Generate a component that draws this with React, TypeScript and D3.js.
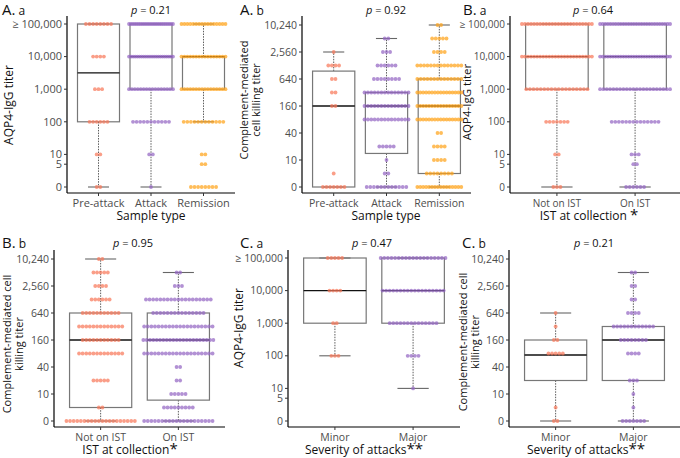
import React from "react";
import * as d3 from "d3";

// ---- data ----
const aqpLevels = [0, 5, 10, 100, 1000, 10000, 100000];
const aqpTicks = [0, 5, 10, 100, 1000, 10000, 100000];
const aqpTickLabels = ["0", "5", "10", "100", "1,000", "10,000", "\u2265 100,000"];
const cdcLevels = [0, 5, 10, 20, 40, 80, 160, 320, 640, 1280, 2560, 5120, 10240];
const cdcTicks = [0, 10, 40, 160, 640, 2560, 10240];
const cdcTickLabels = ["0", "10", "40", "160", "640", "2,560", "10,240"];

const sampleTypes = ["Pre-attack", "Attack", "Remission"];
const istGroups = ["Not on IST", "On IST"];
const severityGroups = ["Minor", "Major"];

// counts of samples at each level
const aaPreAttack = [2, 0, 2, 6, 3, 4, 8];
const aaAttack = [1, 0, 2, 11, 16, 22, 24];
const aaRemission = [8, 2, 2, 12, 16, 16, 16];
const abPreAttack = [7, 1, 0, 0, 0, 0, 2, 2, 2, 4, 1, 0, 0];
const abAttack = [12, 2, 1, 5, 0, 14, 14, 14, 8, 6, 3, 2, 0];
const abRemission = [16, 8, 4, 4, 2, 16, 16, 16, 14, 14, 4, 5, 2];
const baNotOn = [3, 0, 2, 7, 18, 24, 24];
const baOn = [6, 2, 3, 14, 22, 28, 28];
const bbNotOn = [20, 2, 0, 5, 0, 13, 11, 13, 11, 6, 4, 5, 2];
const bbOn = [20, 9, 5, 2, 2, 20, 22, 20, 15, 19, 3, 2, 0];
const caMinor = [0, 0, 0, 3, 2, 4, 5];
const caMajor = [0, 0, 1, 4, 14, 18, 19];
const cbMinor = [2, 1, 0, 0, 0, 5, 2, 1, 1, 0, 0, 0, 0];
const cbMajor = [7, 1, 1, 3, 0, 4, 8, 12, 4, 2, 2, 2, 0];

// box stats: [lower whisker, q1, median, q3, upper whisker]
const aaBoxes = [[0, 100, 3162, 100000, 100000], [0, 1000, 10000, 100000, 100000], [100, 1000, 10000, 10000, 100000]];
const abBoxes = [[0, 0, 160, 960, 2560], [0, 14, 160, 320, 5120], [0, 5, 160, 640, 10240]];
const baBoxes = [[0, 1000, 10000, 100000, 100000], [0, 1000, 10000, 100000, 100000]];
const bbBoxes = [[0, 5, 160, 640, 10240], [0, 7.3, 160, 640, 5120]];
const caBoxes = [[100, 1000, 10000, 100000, 100000], [10, 1000, 10000, 100000, 100000]];
const cbBoxes = [[0, 20, 74, 160, 640], [0, 20, 160, 320, 5120]];

const pValues = ["0.21", "0.92", "0.64", "0.95", "0.47", "0.21"];

const SALMON = "#F8795A";
const PURPLE = "#9466C4";
const ORANGE = "#FFA31A";

const FONT = "'Open Sans', 'Noto Sans', sans-serif";

type Panel = {
  letter: string; sub: string; lx: number; ly: number;
  p: string; px: number;
  axisX: number; axisRight: number; dy: number;
  type: "aqp" | "cdc";
  cats: string[]; counts: number[][]; boxes: number[][]; colors: string[];
  yTitle: string[]; yTitleX: number[]; yTitleY: number; yTitleSize: number;
  xTitle: string; stars: string; xTitleX: number;
  maxW: number; tickSize: number;
};

const panels: Panel[] = [
  { letter: "A.", sub: "a", lx: 2, ly: 0, p: pValues[0], px: 151, axisX: 67, axisRight: 235, dy: 0, type: "aqp",
    cats: sampleTypes, counts: [aaPreAttack, aaAttack, aaRemission], boxes: aaBoxes, colors: [SALMON, PURPLE, ORANGE],
    yTitle: ["AQP4-IgG titer"], yTitleX: [12.5], yTitleY: 105, yTitleSize: 12, xTitle: "Sample type", stars: "", xTitleX: 151, maxW: 44, tickSize: 11 },
  { letter: "A.", sub: "b", lx: 240, ly: 0, p: pValues[1], px: 386, axisX: 302, axisRight: 471, dy: 0, type: "cdc",
    cats: sampleTypes, counts: [abPreAttack, abAttack, abRemission], boxes: abBoxes, colors: [SALMON, PURPLE, ORANGE],
    yTitle: ["Complement-mediated", "cell killing titer"], yTitleX: [248, 260], yTitleY: 100, yTitleSize: 11, xTitle: "Sample type", stars: "", xTitleX: 386, maxW: 44, tickSize: 10.5 },
  { letter: "B.", sub: "a", lx: 463, ly: 0, p: pValues[2], px: 593, axisX: 510, axisRight: 682, dy: 0, type: "aqp",
    cats: istGroups, counts: [baNotOn, baOn], boxes: baBoxes, colors: [SALMON, PURPLE],
    yTitle: ["AQP4-IgG  titer"], yTitleX: [471], yTitleY: 102, yTitleSize: 11.5, xTitle: "IST at collection ", stars: "*", xTitleX: 589, maxW: 70, tickSize: 10 },
  { letter: "B.", sub: "b", lx: 2, ly: 233, p: pValues[3], px: 133, axisX: 54, axisRight: 225, dy: 234, type: "cdc",
    cats: istGroups, counts: [bbNotOn, bbOn], boxes: bbBoxes, colors: [SALMON, PURPLE],
    yTitle: ["Complement-mediated cell", "killing titer"], yTitleX: [11, 23], yTitleY: 344, yTitleSize: 11, xTitle: "IST at collection", stars: "*", xTitleX: 130, maxW: 70, tickSize: 10.5 },
  { letter: "C.", sub: "a", lx: 240, ly: 233, p: pValues[4], px: 372, axisX: 288, axisRight: 460, dy: 234, type: "aqp",
    cats: severityGroups, counts: [caMinor, caMajor], boxes: caBoxes, colors: [SALMON, PURPLE],
    yTitle: ["AQP4-IgG  titer"], yTitleX: [243], yTitleY: 328, yTitleSize: 12, xTitle: "Severity of attacks", stars: "**", xTitleX: 364, maxW: 70, tickSize: 10.5 },
  { letter: "C.", sub: "b", lx: 462, ly: 233, p: pValues[5], px: 594, axisX: 509, axisRight: 680, dy: 234, type: "cdc",
    cats: severityGroups, counts: [cbMinor, cbMajor], boxes: cbBoxes, colors: [SALMON, PURPLE],
    yTitle: ["Complement-mediated cell", "killing titer"], yTitleX: [467, 479], yTitleY: 342, yTitleSize: 11, xTitle: "Severity of attacks", stars: "**", xTitleX: 586, maxW: 70, tickSize: 10.5 },
];

function PanelView({ pn }: { pn: Panel }) {
  const dy = pn.dy;
  const isAqp = pn.type === "aqp";
  const levels = isAqp ? aqpLevels : cdcLevels;
  const ticks = isAqp ? aqpTicks : cdcTicks;
  const tickLabels = isAqp ? aqpTickLabels : cdcTickLabels;
  const floor = isAqp ? 1 : 2.5;
  const ls = isAqp
    ? d3.scaleLog().domain([1, 100000]).range([187 + dy, 24 + dy])
    : d3.scaleLog().base(2).domain([2.5, 10240]).range([187 + dy, 25 + dy]);
  const y = (v: number) => ls(Math.max(v, floor));
  const x = d3.scalePoint<string>().domain(pn.cats).range([pn.axisX, pn.axisRight]).padding(0.6);
  const step = x.step();
  const boxW = step * 0.8;
  const capW = step * 0.4;
  const top = 16 + dy;
  const bottom = 193 + dy;

  return (
    <g>
      {/* panel label */}
      <text x={pn.lx} y={pn.ly + 15} fontFamily={FONT} fill="#111">
        <tspan fontSize={15}>{pn.letter}</tspan>
        <tspan fontSize={12} dx={3}>{pn.sub}</tspan>
      </text>
      <text x={pn.px} y={pn.ly + 14} fontFamily={FONT} fontSize={11} textAnchor="middle" fill="#111">
        <tspan fontStyle="italic">p</tspan>
        <tspan>{" = " + pn.p}</tspan>
      </text>
      {/* boxes */}
      {pn.cats.map((c, i) => {
        const [lo, q1, med, q3, hi] = pn.boxes[i];
        const cx = x(c)!;
        return (
          <g key={"b" + c}>
            <line x1={cx} x2={cx} y1={y(q3)} y2={y(hi)} stroke="#333" strokeWidth={0.8} strokeDasharray="1.5,1.2" />
            <line x1={cx} x2={cx} y1={y(q1)} y2={y(lo)} stroke="#333" strokeWidth={0.8} strokeDasharray="1.5,1.2" />
            <line x1={cx - capW / 2} x2={cx + capW / 2} y1={y(hi)} y2={y(hi)} stroke="#666" strokeWidth={1.1} />
            <line x1={cx - capW / 2} x2={cx + capW / 2} y1={y(lo)} y2={y(lo)} stroke="#666" strokeWidth={1.1} />
            <rect x={cx - boxW / 2} y={y(q3)} width={boxW} height={y(q1) - y(q3)} fill="none" stroke="#777" strokeWidth={1.2} />
            <line x1={cx - boxW / 2} x2={cx + boxW / 2} y1={y(med)} y2={y(med)} stroke="#111" strokeWidth={1.4} />
          </g>
        );
      })}
      {/* dots */}
      {pn.cats.map((c, i) => {
        const cx = x(c)!;
        return (
          <g key={"d" + c} fill={pn.colors[i]} fillOpacity={0.72}>
            {levels.map((lv, j) => {
              const n = pn.counts[i][j];
              if (!n) return null;
              const sp = n > 1 ? Math.min(3.6, pn.maxW / (n - 1)) : 0;
              return d3.range(n).map((k) => (
                <circle key={lv + "-" + k} cx={cx + (k - (n - 1) / 2) * sp} cy={y(lv)} r={1.9} />
              ));
            })}
          </g>
        );
      })}
      {/* axes */}
      <line x1={pn.axisX} x2={pn.axisX} y1={top} y2={bottom} stroke="#000" strokeWidth={1.2} />
      <line x1={pn.axisX} x2={pn.axisRight} y1={bottom} y2={bottom} stroke="#000" strokeWidth={1.2} />
      {ticks.map((t, i) => (
        <g key={"t" + t}>
          <line x1={pn.axisX - 3} x2={pn.axisX} y1={y(t)} y2={y(t)} stroke="#333" strokeWidth={1} />
          <text x={pn.axisX - 5} y={y(t)} dy="0.35em" textAnchor="end" fontFamily={FONT} fontSize={pn.tickSize} fill="#4d4d4d">{tickLabels[i]}</text>
        </g>
      ))}
      {pn.cats.map((c) => (
        <g key={"x" + c}>
          <line x1={x(c)!} x2={x(c)!} y1={bottom} y2={bottom + 3} stroke="#333" strokeWidth={1} />
          <text x={x(c)!} y={bottom + 14} textAnchor="middle" fontFamily={FONT} fontSize={pn.tickSize} fill="#4d4d4d">{c}</text>
        </g>
      ))}
      <text x={pn.xTitleX} y={bottom + 27} textAnchor="middle" fontFamily={FONT} fontSize={12} fill="#111">
        <tspan>{pn.xTitle}</tspan>
        {pn.stars && <tspan fontSize={15}>{pn.stars}</tspan>}
      </text>
      {pn.yTitle.map((t, i) => (
        <text key={"yt" + i} transform={`translate(${pn.yTitleX[i]},${pn.yTitleY}) rotate(-90)`} textAnchor="middle"
          fontFamily={FONT} fontSize={pn.yTitleSize} fill="#111">{t}</text>
      ))}
    </g>
  );
}

export default function App() {
  return (
    <svg width={680} height={458} style={{ position: "absolute", left: 0, top: 0, background: "#fff" }}>
      <rect width={680} height={458} fill="#fff" />
      {panels.map((pn, i) => <PanelView key={i} pn={pn} />)}
    </svg>
  );
}
